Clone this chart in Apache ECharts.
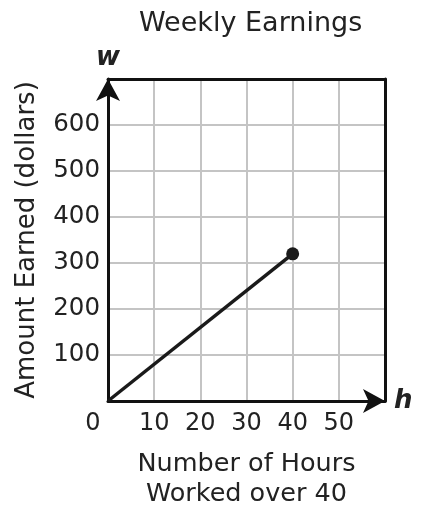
<!DOCTYPE html>
<html>
<head>
<meta charset="utf-8">
<script src="https://cdn.jsdelivr.net/npm/echarts@6/dist/echarts.min.js"></script>
<style>html,body{margin:0;padding:0;background:#fff}#c{width:448px;height:518px}</style>
</head>
<body>
<div id="c"></div>
<script>
var hours = [0, 40];
var earnings = [0, 320];
var titleText = 'Weekly Earnings';
var xName = 'Number of Hours\nWorked over 40';
var yName = 'Amount Earned (dollars)';
var xVar = 'h';
var yVar = 'w';
var xMin = 0, xMax = 60, xStep = 10;
var yMin = 0, yMax = 700, yStep = 100;

var FONT = 'DejaVu Sans';
var TXT = '#222';
var chart = echarts.init(document.getElementById('c'), null, {renderer: 'canvas'});
var pts = hours.map(function (h, i) {
  return i === hours.length - 1 ? {value: [h, earnings[i]]} : {value: [h, earnings[i]], symbol: 'none'};
});
var blank = {show: false};
chart.setOption({
  animation: false,
  backgroundColor: '#fff',
  title: {
    text: titleText, left: 134, top: 5,
    textStyle: {fontFamily: FONT, fontSize: 27, fontWeight: 'normal', color: TXT}
  },
  grid: {left: 108, right: 63, top: 79, bottom: 117},
  xAxis: [
    {
      type: 'value', min: xMin, max: xMax, interval: xStep, position: 'bottom',
      name: xVar, nameLocation: 'end', nameGap: 9,
      nameTextStyle: {fontFamily: FONT, fontSize: 26, fontWeight: 'bold', fontStyle: 'italic', color: TXT, verticalAlign: 'middle'},
      axisLine: {show: true, onZero: false, lineStyle: {color: '#111', width: 3}, symbol: ['none', 'arrow'], symbolSize: [18, 22], symbolOffset: [0, 0]},
      axisTick: blank,
      splitLine: {show: true, lineStyle: {color: '#c4c4c4', width: 2}},
      axisLabel: {
        margin: 11, fontFamily: FONT, fontSize: 24, color: TXT,
        formatter: function (v) { if (v === 0) return '{z|0}'; if (v === xMax) return ''; return String(v); },
        rich: {z: {fontFamily: FONT, fontSize: 24, color: TXT, padding: [0, 30, 0, 0]}}
      },
      z: 3
    },
    {
      type: 'value', min: xMin, max: xMax, position: 'top',
      axisLine: {show: true, onZero: false, lineStyle: {color: '#111', width: 3}},
      axisTick: blank, axisLabel: blank, splitLine: blank, z: 4
    },
    {
      type: 'value', min: xMin, max: xMax, position: 'bottom',
      name: xName, nameLocation: 'middle', nameGap: 48,
      nameTextStyle: {fontFamily: FONT, fontSize: 25.5, color: TXT, lineHeight: 30},
      axisLine: blank, axisTick: blank, axisLabel: blank, splitLine: blank
    }
  ],
  yAxis: [
    {
      type: 'value', min: yMin, max: yMax, interval: yStep, position: 'left',
      name: yVar, nameLocation: 'end', nameGap: 8,
      nameTextStyle: {fontFamily: FONT, fontSize: 26, fontWeight: 'bold', fontStyle: 'italic', color: TXT},
      axisLine: {show: true, onZero: false, lineStyle: {color: '#111', width: 3}, symbol: ['none', 'arrow'], symbolSize: [18, 22], symbolOffset: [0, 0]},
      axisTick: blank,
      splitLine: {show: true, lineStyle: {color: '#c4c4c4', width: 2}},
      axisLabel: {
        margin: 8, fontFamily: FONT, fontSize: 24.5, color: TXT,
        formatter: function (v) { return (v === 0 || v === yMax) ? '' : String(v); }
      },
      z: 3
    },
    {
      type: 'value', min: yMin, max: yMax, position: 'right',
      axisLine: {show: true, onZero: false, lineStyle: {color: '#111', width: 3}},
      axisTick: blank, axisLabel: blank, splitLine: blank, z: 4
    },
    {
      type: 'value', min: yMin, max: yMax, position: 'left',
      name: yName, nameLocation: 'middle', nameGap: 68,
      nameTextStyle: {fontFamily: FONT, fontSize: 26, color: TXT},
      axisLine: blank, axisTick: blank, axisLabel: blank, splitLine: blank
    }
  ],
  series: [{
    type: 'line', xAxisIndex: 0, yAxisIndex: 0,
    data: pts,
    symbol: 'circle', symbolSize: 13,
    lineStyle: {color: '#1a1a1a', width: 3.5},
    itemStyle: {color: '#1a1a1a'},
    z: 5
  }]
});
</script>
</body>
</html>
